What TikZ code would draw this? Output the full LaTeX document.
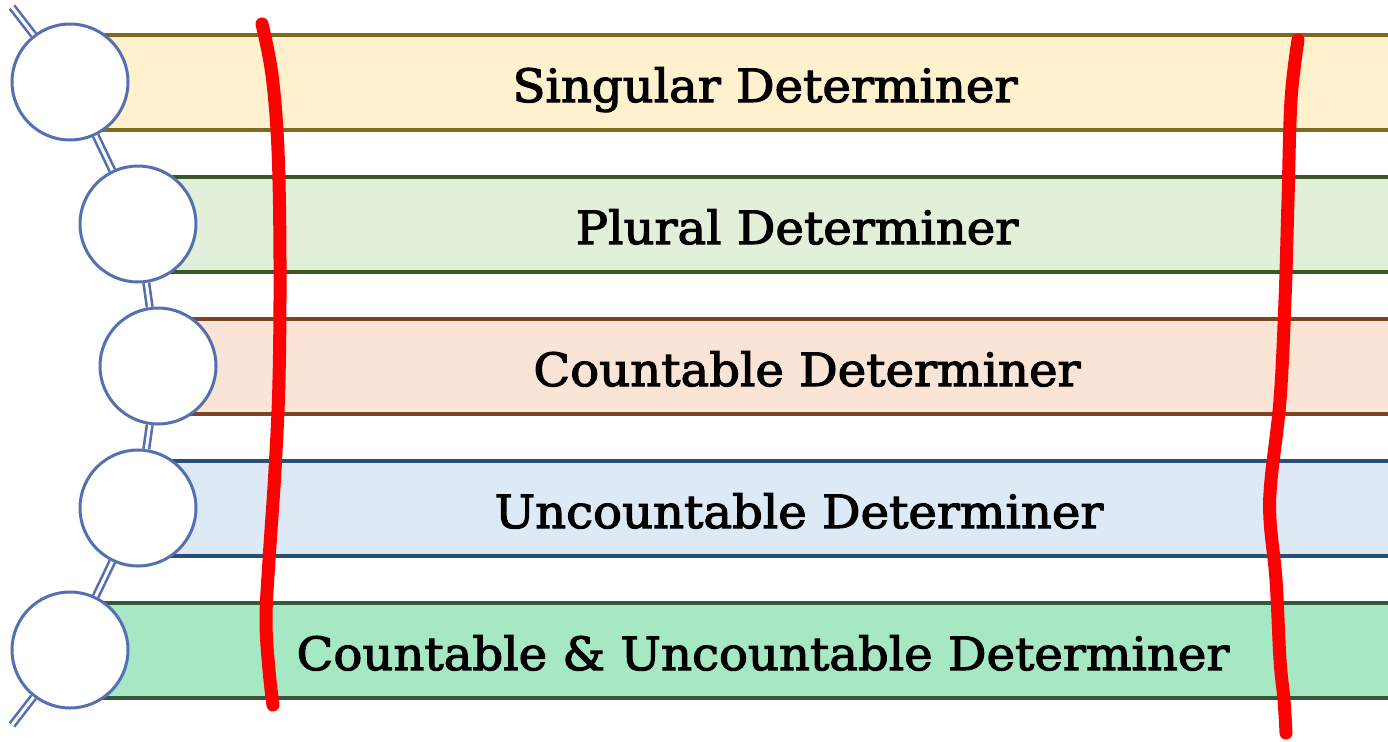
\documentclass[tikz,border=0pt]{standalone}
\usepackage{fontspec}
\setmainfont{DejaVu Serif}[FakeBold=2.5,FakeStretch=1.05]
\begin{document}
\begin{tikzpicture}[x=1bp,y=-1bp,
  bar/.style={line width=3.5bp},
  ball/.style={circle,draw=ballc,fill=white,line width=3bp,minimum size=116bp,inner sep=0pt},
  link/.style={draw=ballc,double=white,double distance=3bp,line width=2.6bp},
  lab/.style={font=\fontsize{46}{50}\selectfont,anchor=base,inner sep=0pt},
  redline/.style={draw=red,line width=13bp,line cap=round,line join=round}]
\definecolor{ballc}{HTML}{5570B0}
\definecolor{f1}{HTML}{FFF1CD}\definecolor{d1}{HTML}{7F6A1E}
\definecolor{f2}{HTML}{E2EFD9}\definecolor{d2}{HTML}{3C5628}
\definecolor{f3}{HTML}{FAE4D6}\definecolor{d3}{HTML}{7E4422}
\definecolor{f4}{HTML}{DEE9F6}\definecolor{d4}{HTML}{274F78}
\definecolor{f5}{HTML}{A6E8C3}\definecolor{d5}{HTML}{36573A}
\useasboundingbox (0,0) rectangle (1388,741);
\clip (0,0) rectangle (1388,741);
% bars
\draw[bar,fill=f1,draw=d1] (70,35) rectangle (1400,130);
\draw[bar,fill=f2,draw=d2] (138,177) rectangle (1400,272);
\draw[bar,fill=f3,draw=d3] (158,319) rectangle (1400,414);
\draw[bar,fill=f4,draw=d4] (138,461) rectangle (1400,556);
\draw[bar,fill=f5,draw=d5] (70,603) rectangle (1400,698);
% labels
\node[lab] (t1) at (765,102) {Singular Determiner};
\node[lab] (t2) at (797,244) {Plural Determiner};
\node[lab] (t3) at (807,386) {Countable Determiner};
\node[lab] (t4) at (799,528) {Uncountable Determiner};
\node[lab] (t5) at (763,670) {Countable \& Uncountable Determiner};
% circles
\node[ball] (c1) at (70,82) {};
\node[ball] (c2) at (138,224) {};
\node[ball] (c3) at (158,366) {};
\node[ball] (c4) at (138,508) {};
\node[ball] (c5) at (70,650) {};
\coordinate (s) at (12,7);
\coordinate (e) at (12,725);
\draw[link] (s) -- (c1);
\draw[link] (c1) -- (c2);
\draw[link] (c2) -- (c3);
\draw[link] (c3) -- (c4);
\draw[link] (c4) -- (c5);
\draw[link] (c5) -- (e);
% red marks
\draw[redline] plot[smooth,tension=0.6] coordinates {(262,24) (272,75) (278,150) (280,260) (279,380) (275,470) (269,560) (266,620) (269,670) (273,705)};
\draw[redline] plot[smooth,tension=0.6] coordinates {(1298,40) (1291,100) (1288,200) (1285,300) (1280,400) (1271,480) (1270,520) (1276,580) (1280,660) (1284,700) (1286,733)};
\end{tikzpicture}
\end{document}
